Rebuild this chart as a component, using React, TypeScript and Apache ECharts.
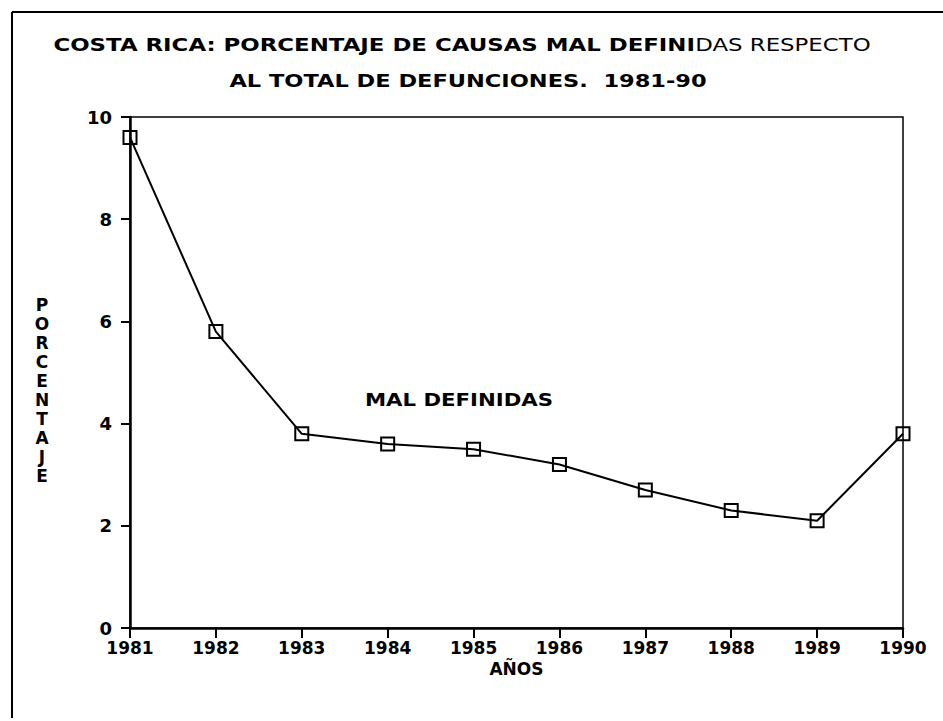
import React, { useEffect, useRef } from "react";
import * as echarts from "echarts";

const years = ["1981", "1982", "1983", "1984", "1985", "1986", "1987", "1988", "1989", "1990"];
const malDefinidas = [9.6, 5.8, 3.8, 3.6, 3.5, 3.2, 2.7, 2.3, 2.1, 3.8];
const yMin = 0;
const yMax = 10;
const yStep = 2;
const titleBold1 = "COSTA RICA: PORCENTAJE DE CAUSAS MAL DEFINI";
const titleLight1 = "DAS RESPECTO";
const titleLine2 = "AL TOTAL DE DEFUNCIONES.  1981-90";
const yAxisName = "PORCENTAJE";
const xAxisName = "AÑOS";
const seriesName = "MAL DEFINIDAS";

const FONT = "DejaVu Sans";

export default function App() {
  const ref = useRef<HTMLDivElement>(null);
  useEffect(() => {
    document.body.style.margin = "0";
    const chart = echarts.init(ref.current!, null, { renderer: "svg" });
    chart.setOption({
      animation: false,
      backgroundColor: "#fff",
      textStyle: { fontFamily: FONT, color: "#000" },
      grid: {
        left: 130,
        right: 40,
        top: 117,
        bottom: 93,
        show: true,
        borderColor: "#000",
        borderWidth: 1.5,
      },
      xAxis: {
        type: "category",
        data: years,
        boundaryGap: false,
        name: xAxisName,
        nameLocation: "middle",
        nameGap: 28,
        nameTextStyle: { fontFamily: FONT, fontWeight: "bold", fontSize: 17, color: "#000" },
        axisLine: { lineStyle: { color: "#000", width: 2.5 } },
        axisTick: { show: true, length: 10, lineStyle: { color: "#000", width: 2 } },
        axisLabel: { margin: 11, fontFamily: FONT, fontWeight: "bold", fontSize: 17, color: "#000" },
        splitLine: { show: false },
      },
      yAxis: {
        type: "value",
        min: yMin,
        max: yMax,
        interval: yStep,
        axisLine: { show: true, lineStyle: { color: "#000", width: 2.5 } },
        axisTick: { show: true, length: 9, lineStyle: { color: "#000", width: 2 } },
        axisLabel: { margin: 18, fontFamily: FONT, fontWeight: "bold", fontSize: 18, color: "#000" },
        splitLine: { show: false },
      },
      series: [
        {
          name: seriesName,
          type: "line",
          data: malDefinidas,
          symbol: "rect",
          symbolSize: 13,
          showAllSymbol: true,
          lineStyle: { color: "#000", width: 2 },
          itemStyle: { color: "rgba(0,0,0,0)", borderColor: "#000", borderWidth: 2 },
          z: 5,
        },
      ],
      graphic: [
        {
          type: "line",
          shape: { x1: 12, y1: 12, x2: 943, y2: 12 },
          style: { stroke: "#000", lineWidth: 2 },
        },
        {
          type: "line",
          shape: { x1: 12, y1: 12, x2: 12, y2: 718 },
          style: { stroke: "#000", lineWidth: 2 },
        },
        {
          type: "text",
          x: 462,
          y: 45,
          scaleX: 1.27,
          style: {
            text: `{b|${titleBold1}}{n|${titleLight1}}`,
            align: "center",
            verticalAlign: "middle",
            rich: {
              b: { fontFamily: FONT, fontWeight: "bold", fontSize: 18, fill: "#000" },
              n: { fontFamily: FONT, fontWeight: "normal", fontSize: 18, fill: "#000" },
            },
          },
        },
        {
          type: "text",
          x: 468,
          y: 81,
          scaleX: 1.25,
          style: {
            text: titleLine2,
            align: "center",
            verticalAlign: "middle",
            fontFamily: FONT,
            fontWeight: "bold",
            fontSize: 18,
            fill: "#000",
          },
        },
        {
          type: "text",
          x: 42,
          y: 295,
          style: {
            text: yAxisName.split("").join("\n"),
            align: "center",
            verticalAlign: "top",
            fontFamily: FONT,
            fontWeight: "bold",
            fontSize: 17,
            lineHeight: 19,
            fill: "#000",
          },
        },
        {
          type: "text",
          x: 365,
          y: 400,
          scaleX: 1.18,
          style: {
            text: seriesName,
            align: "left",
            verticalAlign: "middle",
            fontFamily: FONT,
            fontWeight: "bold",
            fontSize: 18,
            fill: "#000",
          },
        },
      ],
    });
    return () => chart.dispose();
  }, []);
  return <div ref={ref} style={{ width: 943, height: 721 }} />;
}
